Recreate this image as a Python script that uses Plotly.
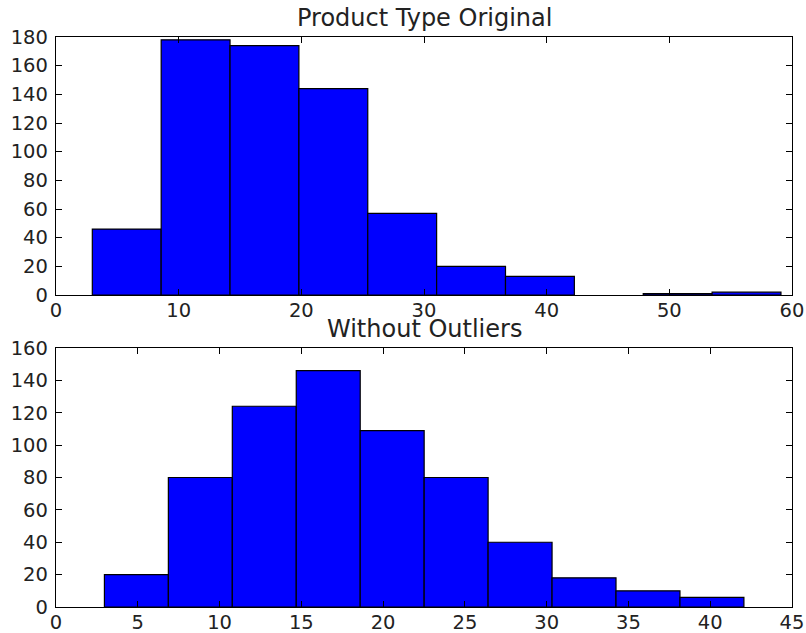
import plotly.graph_objects as go

# Top histogram: "Product Type Original"
orig_bin_start = 2.96
orig_bin_width = 5.614
orig_counts = [46, 178, 174, 144, 57, 20, 13, 0, 1, 2]

# Bottom histogram: "Without Outliers"
clean_bin_start = 2.96
clean_bin_width = 3.91
clean_counts = [20, 80, 124, 146, 109, 80, 40, 18, 10, 6]

top_xticks = [0, 10, 20, 30, 40, 50, 60]
top_yticks = [0, 20, 40, 60, 80, 100, 120, 140, 160, 180]
bot_xticks = [0, 5, 10, 15, 20, 25, 30, 35, 40, 45]
bot_yticks = [0, 20, 40, 60, 80, 100, 120, 140, 160]

titles = ["Product Type Original", "Without Outliers"]


def centers(start, width, n):
    return [start + width * (i + 0.5) for i in range(n)]


def outline_widths(counts):
    return [1.2 if c > 0 else 0 for c in counts]


W, H = 806, 633

fig = go.Figure()
fig.add_trace(go.Bar(
    x=centers(orig_bin_start, orig_bin_width, len(orig_counts)),
    y=orig_counts, width=orig_bin_width,
    marker=dict(color="#0000ff", line=dict(color="black", width=outline_widths(orig_counts))),
    xaxis="x", yaxis="y", showlegend=False, hoverinfo="skip"))
fig.add_trace(go.Bar(
    x=centers(clean_bin_start, clean_bin_width, len(clean_counts)),
    y=clean_counts, width=clean_bin_width,
    marker=dict(color="#0000ff", line=dict(color="black", width=outline_widths(clean_counts))),
    xaxis="x2", yaxis="y2", showlegend=False, hoverinfo="skip"))

xd = [56 / W, 792 / W]
top_dom = [1 - 295 / H, 1 - 37 / H]
bot_dom = [1 - 607 / H, 1 - 348 / H]

ax_common = dict(showline=True, linecolor="black", linewidth=1.2, mirror="ticks",
                 ticks="inside", ticklen=6, tickwidth=1, tickcolor="black",
                 showgrid=False, zeroline=False, automargin=False,
                 tickfont=dict(family="DejaVu Sans", size=19.5, color="#222"))

title_font = dict(family="DejaVu Sans", size=24, color="#222")

fig.update_layout(
    width=W, height=H,
    margin=dict(l=0, r=0, t=0, b=0),
    plot_bgcolor="white", paper_bgcolor="white",
    bargap=0,
    xaxis=dict(domain=xd, anchor="y", range=[0, 60], tickvals=top_xticks,
               ticklabelstandoff=-3, **ax_common),
    yaxis=dict(domain=top_dom, anchor="x", range=[0, 180], tickvals=top_yticks,
               ticklabelstandoff=3, **ax_common),
    xaxis2=dict(domain=xd, anchor="y2", range=[0, 45], tickvals=bot_xticks,
                ticklabelstandoff=-3, **ax_common),
    yaxis2=dict(domain=bot_dom, anchor="x2", range=[0, 160], tickvals=bot_yticks,
                ticklabelstandoff=3, **ax_common),
    annotations=[
        dict(text=titles[0], x=(xd[0] + xd[1]) / 2, y=top_dom[1], xref="paper", yref="paper",
             xanchor="center", yanchor="bottom", yshift=3, showarrow=False, font=title_font),
        dict(text=titles[1], x=(xd[0] + xd[1]) / 2, y=bot_dom[1], xref="paper", yref="paper",
             xanchor="center", yanchor="bottom", yshift=3, showarrow=False, font=title_font),
    ],
)

fig.write_html("out.html", config={"displayModeBar": False, "staticPlot": True},
               post_script="document.body.style.margin='0';document.body.style.overflow='hidden';")
